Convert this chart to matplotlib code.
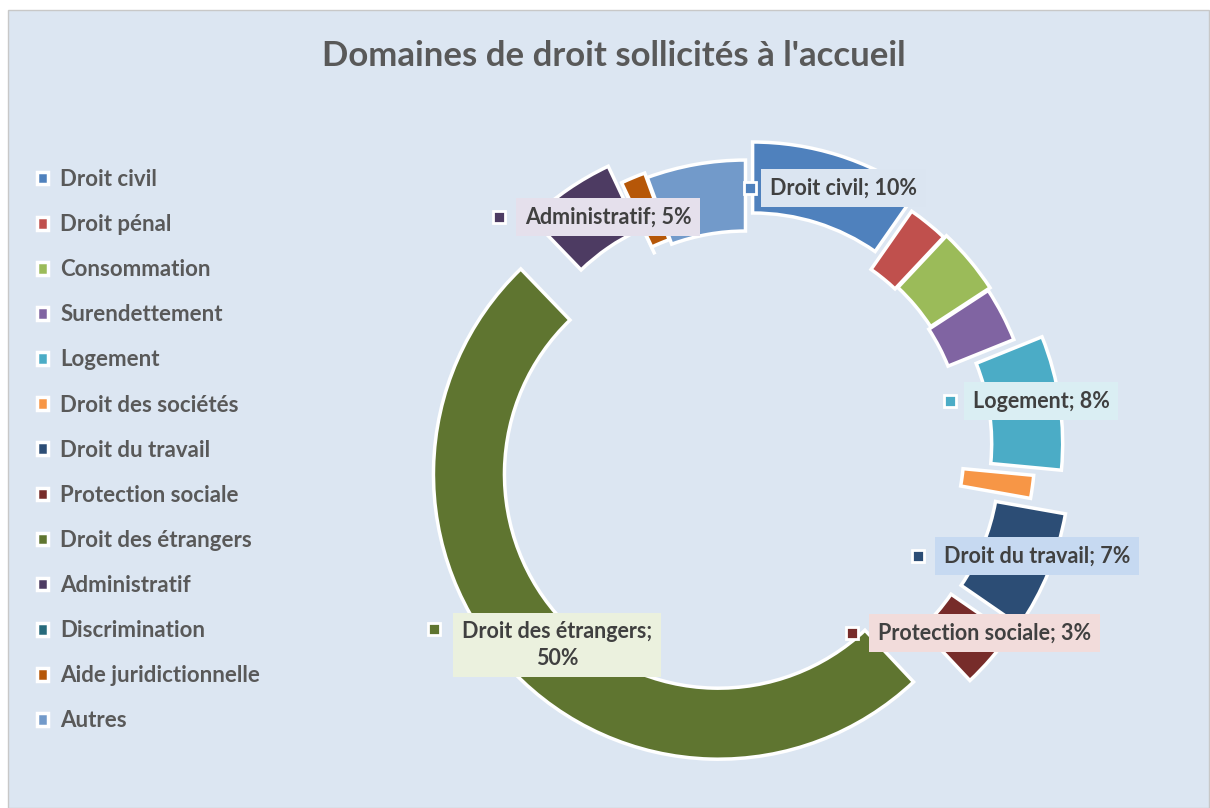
import matplotlib
matplotlib.use('Agg')
import matplotlib.pyplot as plt
from matplotlib.patches import Rectangle

plt.rcParams['font.family'] = ['Lato', 'DejaVu Sans']

# Data (percent of requests)
categories = ['Droit civil', 'Droit pénal', 'Consommation', 'Surendettement',
              'Logement', 'Droit des sociétés', 'Droit du travail',
              'Protection sociale', 'Droit des étrangers', 'Administratif',
              'Discrimination', 'Aide juridictionnelle', 'Autres']
shares = [9.7, 2.3, 3.8, 3.1, 7.6, 1.3, 6.8, 3.4, 49.8, 5.2, 0.0, 1.4, 5.6]
labelled = ['Droit civil', 'Administratif', 'Logement', 'Droit du travail',
            'Protection sociale', 'Droit des étrangers']

colors = ['#4f81bd', '#c0504d', '#9bbb59', '#8064a2', '#4bacc6', '#f79646',
          '#2c4d75', '#772c2a', '#5f7530', '#4d3b62', '#276a7c', '#b65708',
          '#729aca']
# explosion of each slice, in pixels
explode = [22, 4, 7, 4, 32, 4, 42, 38, 38, 29, 0, 8, 3]

W, H = 1210, 808
fig = plt.figure(figsize=(W / 100, H / 100), dpi=100)
ax = fig.add_axes([0, 0, 1, 1])

# chart area background
ax.add_patch(Rectangle((8, 0), W - 9, H - 10, facecolor='#dce6f2',
                       edgecolor='#c8c8c8', linewidth=1, zorder=0))

R = 285
wedges, _ = ax.pie(shares, colors=colors, explode=explode, radius=R,
                   center=(746, H - 448), startangle=90, counterclock=False,
                   frame=True,
                   wedgeprops=dict(width=71, edgecolor='white', linewidth=2.5))

ax.set_xlim(0, W)
ax.set_ylim(0, H)
ax.set_aspect('equal')
ax.axis('off')

fig.text(614 / W, 1 - 56 / H, "Domaines de droit sollicités à l'accueil",
         ha='center', va='center', fontsize=25, fontweight='bold',
         color='#595959')

leg = ax.legend(wedges, categories, loc='upper left',
                bbox_to_anchor=(37 / W, 1 - 169 / H), frameon=False,
                fontsize=16, handlelength=0.5, handleheight=0.5,
                handletextpad=0.55, labelspacing=1.085, borderpad=0,
                borderaxespad=0)
for t in leg.get_texts():
    t.set_color('#595959')
    t.set_fontweight('bold')

# data labels: (marker x, text x, y) in pixels from top-left, box colour
label_pos = {
    'Droit civil': (750, 770, 188, '#dbe5f1'),
    'Administratif': (499, 525, 217, '#e5e0ec'),
    'Logement': (950, 973, 401, '#daeef3'),
    'Droit du travail': (918, 944, 556, '#c6d9f1'),
    'Protection sociale': (852, 878, 633, '#f2dcdb'),
    'Droit des étrangers': (434, 557, 645, '#ebf1de'),
}
for name in labelled:
    i = categories.index(name)
    mx, tx, ty, bg = label_pos[name]
    txt = f'{name}; {round(shares[i])}%'
    box = dict(boxstyle='square,pad=0.4', facecolor=bg, edgecolor='none')
    if name == 'Droit des étrangers':
        txt = f'{name};\n{round(shares[i])}%'
        ax.text(tx, H - ty, txt, ha='center', va='center', fontsize=15.5,
                fontweight='bold', color='#404040', linespacing=1.3,
                bbox=box, zorder=5)
        my = H - 629
    else:
        ax.text(tx, H - ty, txt, ha='left', va='center', fontsize=15.5,
                fontweight='bold', color='#404040', bbox=box, zorder=5)
        my = H - ty
    ax.plot(mx, my, marker='s', markersize=8, color=colors[i],
            markeredgecolor='white', markeredgewidth=2, zorder=6)

plt.savefig('out.png', dpi=100, facecolor='white')
